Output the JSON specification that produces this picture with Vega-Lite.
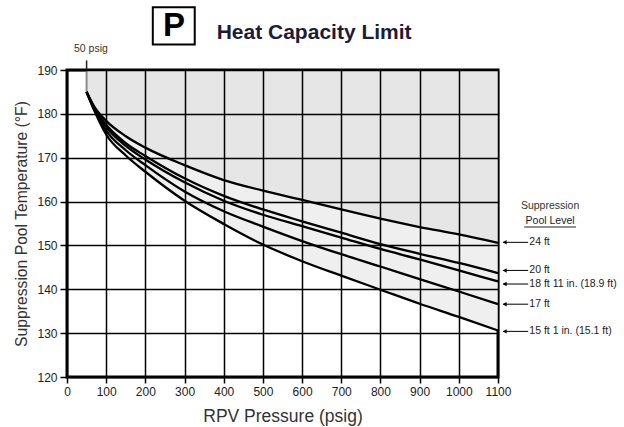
{
  "$schema": "https://vega.github.io/schema/vega-lite/v6.json",
  "autosize": "none",
  "width": 431,
  "height": 307,
  "padding": {"left": 67, "top": 70, "right": 126, "bottom": 50},
  "background": "white",
  "config": {
    "view": {"stroke": "black", "strokeWidth": 3},
    "font": "Liberation Sans",
    "axisX": {"tickCount": 12},
    "axisY": {"tickCount": 8}
  },
  "datasets": {
    "curves": [
      {"P": 50, "ft24": 185, "ft20": 185, "ft189": 185, "ft17": 185, "ft151": 185},
      {"P": 70, "ft24": 181.6, "ft20": 181.3, "ft189": 181.1, "ft17": 180.9, "ft151": 180.7},
      {"P": 100, "ft24": 178.4, "ft20": 177.5, "ft189": 177.0, "ft17": 176.2, "ft151": 175.3},
      {"P": 150, "ft24": 174.9, "ft20": 173.3, "ft189": 172.7, "ft17": 171.7, "ft151": 170.5},
      {"P": 200, "ft24": 172.3, "ft20": 170.4, "ft189": 169.6, "ft17": 168.3, "ft151": 166.8},
      {"P": 300, "ft24": 168.3, "ft20": 165.3, "ft189": 164.4, "ft17": 162.3, "ft151": 160.2},
      {"P": 400, "ft24": 164.9, "ft20": 161.3, "ft189": 160.2, "ft17": 157.8, "ft151": 154.9},
      {"P": 500, "ft24": 162.5, "ft20": 158.2, "ft189": 157.0, "ft17": 154.3, "ft151": 150.2},
      {"P": 600, "ft24": 160.4, "ft20": 155.5, "ft189": 154.4, "ft17": 151.0, "ft151": 146.4},
      {"P": 700, "ft24": 158.2, "ft20": 152.9, "ft189": 151.8, "ft17": 148.0, "ft151": 143.1},
      {"P": 800, "ft24": 156.1, "ft20": 150.3, "ft189": 149.2, "ft17": 145.2, "ft151": 139.9},
      {"P": 900, "ft24": 154.2, "ft20": 148.1, "ft189": 146.8, "ft17": 142.3, "ft151": 136.7},
      {"P": 1000, "ft24": 152.5, "ft20": 146.0, "ft189": 144.3, "ft17": 139.5, "ft151": 133.7},
      {"P": 1100, "ft24": 150.6, "ft20": 143.7, "ft189": 141.8, "ft17": 136.6, "ft151": 130.6}
    ],
    "levels": [
      {"label": "24 ft", "T": 150.7},
      {"label": "20 ft", "T": 144.3},
      {"label": "18 ft 11 in. (18.9 ft)", "T": 141.2},
      {"label": "17 ft", "T": 136.6},
      {"label": "15 ft 1 in. (15.1 ft)", "T": 130.4}
    ],
    "one": [{}]
  },
  "layer": [
    {
      "data": {"name": "curves"},
      "mark": {"type": "area", "interpolate": "monotone", "fill": "#e6e6e6"},
      "encoding": {
        "x": {"field": "P", "type": "quantitative", "scale": {"domain": [0, 1100], "nice": false},
          "axis": {"values": [0,100,200,300,400,500,600,700,800,900,1000,1100], "format": "d", "labelOverlap": false, "labelFlush": false, "title": "RPV Pressure (psig)", "domain": false, "grid": true, "gridColor": "black", "gridWidth": 1.5, "gridOpacity": 1, "ticks": true, "tickColor": "black", "tickWidth": 1.5, "tickSize": 6, "labelFontSize": 12, "labelColor": "#222", "labelPadding": 3, "labelFont": "Liberation Sans", "titleFont": "Liberation Sans", "titleFontSize": 17.5, "titleFontWeight": "normal", "titleColor": "#333", "titlePadding": 10, "zindex": 1}},
        "y": {"field": "ft24", "type": "quantitative", "scale": {"domain": [120, 190], "nice": false},
          "axis": {"values": [120,130,140,150,160,170,180,190], "format": "d", "labelOverlap": false, "labelFlush": false, "title": "Suppression Pool Temperature (°F)", "domain": false, "grid": true, "gridColor": "black", "gridWidth": 1.5, "gridOpacity": 1, "ticks": true, "tickColor": "black", "tickWidth": 1.5, "tickSize": 7, "labelFontSize": 12, "labelColor": "#222", "labelPadding": 3, "labelFont": "Liberation Sans", "titleFont": "Liberation Sans", "titleFontSize": 15.7, "titleFontWeight": "normal", "titleColor": "#333", "titlePadding": 7, "zindex": 1}},
        "y2": {"datum": 190}
      }
    },
    {
      "data": {"name": "curves"},
      "mark": {"type": "area", "interpolate": "monotone", "fill": "#efefef"},
      "encoding": {
        "x": {"field": "P", "type": "quantitative", "scale": {"domain": [0, 1100], "nice": false}},
        "y": {"field": "ft151", "type": "quantitative", "scale": {"domain": [120, 190], "nice": false}},
        "y2": {"field": "ft24"}
      }
    },
    {
      "data": {"name": "one"},
      "mark": {"type": "rule", "color": "#8c8c8c", "strokeWidth": 2},
      "encoding": {
        "x": {"datum": 50, "type": "quantitative", "scale": {"domain": [0, 1100], "nice": false}},
        "y": {"datum": 185, "type": "quantitative", "scale": {"domain": [120, 190], "nice": false}},
        "y2": {"datum": 190}
      }
    },
    {
      "data": {"name": "one"},
      "mark": {"type": "rule", "color": "#222", "strokeWidth": 1.5},
      "encoding": {
        "x": {"datum": 50, "type": "quantitative", "scale": {"domain": [0, 1100], "nice": false}},
        "y": {"datum": 190, "type": "quantitative", "scale": {"domain": [120, 190], "nice": false}},
        "y2": {"datum": 192.2}
      }
    },
    {
      "data": {"name": "one"},
      "mark": {"type": "text", "fontSize": 10.5, "color": "#333", "align": "center", "baseline": "middle"},
      "encoding": {
        "x": {"datum": 61, "type": "quantitative", "scale": {"domain": [0, 1100], "nice": false}},
        "y": {"datum": 194.7, "type": "quantitative", "scale": {"domain": [120, 190], "nice": false}},
        "text": {"value": "50 psig"}
      }
    },
    {
      "data": {"name": "curves"},
      "transform": [{"fold": ["ft24", "ft20", "ft189", "ft17", "ft151"], "as": ["level", "T"]}],
      "mark": {"type": "line", "interpolate": "monotone", "color": "black", "strokeWidth": 2.3},
      "encoding": {
        "x": {"field": "P", "type": "quantitative", "scale": {"domain": [0, 1100], "nice": false}},
        "y": {"field": "T", "type": "quantitative", "scale": {"domain": [120, 190], "nice": false}},
        "detail": {"field": "level"}
      }
    },
    {
      "data": {"name": "levels"},
      "mark": {"type": "rule", "color": "black", "strokeWidth": 1},
      "encoding": {
        "x": {"datum": 1113, "type": "quantitative", "scale": {"domain": [0, 1100], "nice": false}},
        "x2": {"datum": 1177},
        "y": {"field": "T", "type": "quantitative", "scale": {"domain": [120, 190], "nice": false}}
      }
    },
    {
      "data": {"name": "levels"},
      "mark": {"type": "point", "shape": "triangle-left", "filled": true, "color": "black", "size": 20, "opacity": 1},
      "encoding": {
        "x": {"datum": 1117, "type": "quantitative", "scale": {"domain": [0, 1100], "nice": false}},
        "y": {"field": "T", "type": "quantitative", "scale": {"domain": [120, 190], "nice": false}}
      }
    },
    {
      "data": {"name": "levels"},
      "mark": {"type": "text", "fontSize": 10.5, "color": "#222", "align": "left", "baseline": "middle"},
      "encoding": {
        "x": {"datum": 1180, "type": "quantitative", "scale": {"domain": [0, 1100], "nice": false}},
        "y": {"field": "T", "type": "quantitative", "scale": {"domain": [120, 190], "nice": false}},
        "text": {"field": "label"}
      }
    },
    {
      "data": {"name": "one"},
      "mark": {"type": "text", "fontSize": 10.5, "color": "#333", "align": "center", "baseline": "middle"},
      "encoding": {
        "x": {"datum": 1233, "type": "quantitative", "scale": {"domain": [0, 1100], "nice": false}},
        "y": {"datum": 159, "type": "quantitative", "scale": {"domain": [120, 190], "nice": false}},
        "text": {"value": "Suppression"}
      }
    },
    {
      "data": {"name": "one"},
      "mark": {"type": "text", "fontSize": 10.5, "color": "#222", "align": "center", "baseline": "middle"},
      "encoding": {
        "x": {"datum": 1233, "type": "quantitative", "scale": {"domain": [0, 1100], "nice": false}},
        "y": {"datum": 155.6, "type": "quantitative", "scale": {"domain": [120, 190], "nice": false}},
        "text": {"value": "Pool Level"}
      }
    },
    {
      "data": {"name": "one"},
      "mark": {"type": "rule", "color": "#222", "strokeWidth": 1},
      "encoding": {
        "x": {"datum": 1167, "type": "quantitative", "scale": {"domain": [0, 1100], "nice": false}},
        "x2": {"datum": 1299},
        "y": {"datum": 154.2, "type": "quantitative", "scale": {"domain": [120, 190], "nice": false}}
      }
    },
    {
      "data": {"name": "one"},
      "mark": {"type": "rect", "fill": "white", "stroke": "black", "strokeWidth": 2},
      "encoding": {
        "x": {"datum": 219, "type": "quantitative", "scale": {"domain": [0, 1100], "nice": false}},
        "x2": {"datum": 326},
        "y": {"datum": 195.8, "type": "quantitative", "scale": {"domain": [120, 190], "nice": false}},
        "y2": {"datum": 204.3}
      }
    },
    {
      "data": {"name": "one"},
      "mark": {"type": "text", "fontSize": 33, "fontWeight": "bold", "color": "black", "align": "center", "baseline": "middle"},
      "encoding": {
        "x": {"datum": 273, "type": "quantitative", "scale": {"domain": [0, 1100], "nice": false}},
        "y": {"datum": 200.0, "type": "quantitative", "scale": {"domain": [120, 190], "nice": false}},
        "text": {"value": "P"}
      }
    },
    {
      "data": {"name": "one"},
      "mark": {"type": "text", "fontSize": 21, "fontWeight": "bold", "color": "#1c1c38", "align": "left", "baseline": "alphabetic"},
      "encoding": {
        "x": {"datum": 382, "type": "quantitative", "scale": {"domain": [0, 1100], "nice": false}},
        "y": {"datum": 197.0, "type": "quantitative", "scale": {"domain": [120, 190], "nice": false}},
        "text": {"value": "Heat Capacity Limit"}
      }
    }
  ]
}
